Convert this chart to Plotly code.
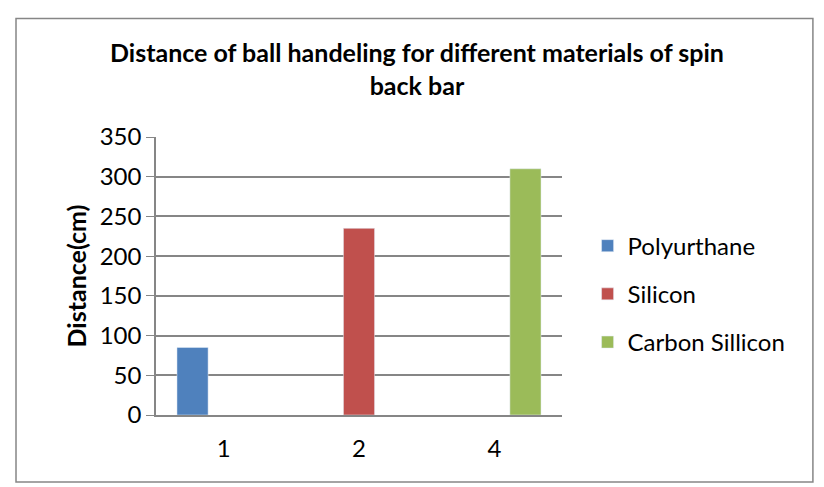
import plotly.graph_objs as go

# data
categories = ['1', '2', '4']
polyurthane = [85, None, None]
silicon = [None, 235, None]
carbon_sillicon = [None, None, 310]
y_ticks = [0, 50, 100, 150, 200, 250, 300, 350]

font_name = 'Lato'
grid_col = '#868686'

trace1 = go.Bar(x=categories, y=polyurthane, name='Polyurthane',
                marker={'color': '#4F81BD'}, legendgroup='a')
trace2 = go.Bar(x=categories, y=silicon, name='Silicon',
                marker={'color': '#C0504D'}, legendgroup='b')
trace3 = go.Bar(x=categories, y=carbon_sillicon, name='Carbon Sillicon',
                marker={'color': '#9BBB59'}, legendgroup='c')

layout = go.Layout(
    title=dict(text='<b>Distance of ball handeling for different materials of spin<br>back bar</b>',
               x=0.506, xref='container', xanchor='center',
               y=0.872, yref='container', yanchor='top',
               font=dict(family=font_name, size=25, color='black')),
    width=824, height=487,
    margin=dict(l=156, r=262, t=137, b=72),
    paper_bgcolor='white', plot_bgcolor='white',
    barmode='group', bargap=0.31, bargroupgap=0,
    font=dict(family=font_name, size=24, color='black'),
    xaxis=dict(type='category', showgrid=False, showline=True,
               linecolor=grid_col, linewidth=1.5, ticks='',
               tickfont=dict(size=24), ticklabelstandoff=11),
    yaxis=dict(range=[0, 350], tickvals=y_ticks, showgrid=True,
               gridcolor=grid_col, gridwidth=1.5, showline=True,
               linecolor=grid_col, linewidth=1.5, ticks='outside',
               ticklen=8, tickcolor=grid_col, zeroline=False,
               tickfont=dict(size=24),
               title=dict(text='<b>Distance(cm)</b>', font=dict(size=25), standoff=6)),
    legend=dict(x=1.063, xanchor='left', y=0.435, yanchor='middle',
                font=dict(size=24), tracegroupgap=14,
                bgcolor='rgba(0,0,0,0)'),
    shapes=[dict(type='rect', xref='paper', yref='paper',
                 x0=-0.3448, x1=1.618, y0=-0.2407, y1=1.4265,
                 line=dict(color=grid_col, width=1.5))],
)

fig = go.Figure(data=[trace1, trace2, trace3], layout=layout)
# drop the default page margin so the figure sits at the window corner
fig.write_html('out.html', config={'displayModeBar': False},
               post_script="document.body.style.margin='0';")
